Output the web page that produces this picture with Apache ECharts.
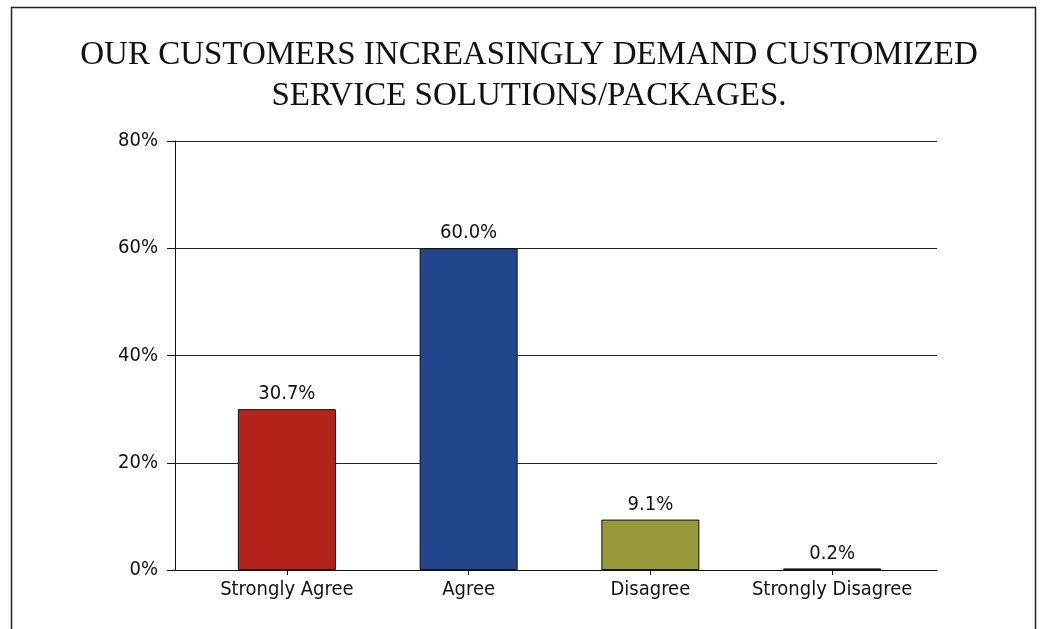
<!DOCTYPE html>
<html>
<head>
<meta charset="utf-8">
<script src="https://cdn.jsdelivr.net/npm/echarts@6/dist/echarts.min.js"></script>
<style>
html,body{margin:0;padding:0;background:#fff;}
#chart{width:1043px;height:629px;}
</style>
</head>
<body>
<div id="chart"></div>
<script>
const titleLines = ['OUR CUSTOMERS INCREASINGLY DEMAND CUSTOMIZED', 'SERVICE SOLUTIONS/PACKAGES.'];
const categories = ['Strongly Agree', 'Agree', 'Disagree', 'Strongly Disagree'];
const barValues = [30.0, 60.0, 9.4, 0.3];
const dataLabels = ['30.7%', '60.0%', '9.1%', '0.2%'];
const barColors = ['#B2241A', '#21468B', '#999B3A', '#1f2a14'];
const yTicks = [0, 20, 40, 60, 80];

const labelFont = '"DejaVu Sans Condensed", "Liberation Sans Narrow", sans-serif';
const chart = echarts.init(document.getElementById('chart'));
chart.setOption({
  animation: false,
  backgroundColor: '#fff',
  title: {
    text: titleLines.join('\n'),
    left: 524,
    textAlign: 'center',
    top: 30,
    textStyle: {
      fontFamily: '"Liberation Serif", "DejaVu Serif", serif',
      fontWeight: 'normal',
      fontSize: 33,
      lineHeight: 41,
      color: '#111'
    }
  },
  graphic: [{
    type: 'polyline',
    silent: true,
    shape: { points: [[11.5, 629], [11.5, 7.5], [1035.5, 7.5], [1035.5, 629]] },
    style: { stroke: '#222', lineWidth: 1.5, fill: null }
  }],
  grid: [
    { left: 175, right: 106, top: 141, bottom: 59 },
    { left: 196, right: 120, top: 141, bottom: 59 }
  ],
  xAxis: [
    { gridIndex: 0, type: 'value', min: 0, max: 1, axisLine: { show: true, onZero: false, lineStyle: { color: '#111', width: 1 } },
      axisTick: { show: false }, axisLabel: { show: false }, splitLine: { show: false } },
    { gridIndex: 1, type: 'category', data: categories,
      axisLine: { show: false },
      axisTick: { show: true, alignWithLabel: true, length: 5, lineStyle: { color: '#111' } },
      axisLabel: { interval: 0, margin: 10, fontFamily: labelFont, fontSize: 20, color: '#111' } }
  ],
  yAxis: [
    { gridIndex: 0, type: 'value', min: yTicks[0], max: yTicks[yTicks.length - 1], interval: 20,
      axisLine: { show: true, lineStyle: { color: '#111', width: 1 } },
      axisTick: { show: true, length: 8, lineStyle: { color: '#111' } },
      axisLabel: { margin: 17, formatter: '{value}%', fontFamily: labelFont, fontSize: 20, color: '#111' },
      splitLine: { show: true, lineStyle: { color: '#222', width: 1 } } },
    { gridIndex: 1, type: 'value', min: 0, max: 80, show: false }
  ],
  series: [{
    type: 'bar',
    xAxisIndex: 1,
    yAxisIndex: 1,
    barWidth: 98,
    data: barValues.map((v, i) => ({ value: v, itemStyle: { color: barColors[i] } })),
    itemStyle: { borderColor: '#111', borderWidth: 1 },
    label: {
      show: true,
      position: 'top',
      distance: 5,
      fontFamily: labelFont,
      fontSize: 20,
      color: '#111',
      formatter: p => dataLabels[p.dataIndex]
    }
  }]
});
</script>
</body>
</html>
